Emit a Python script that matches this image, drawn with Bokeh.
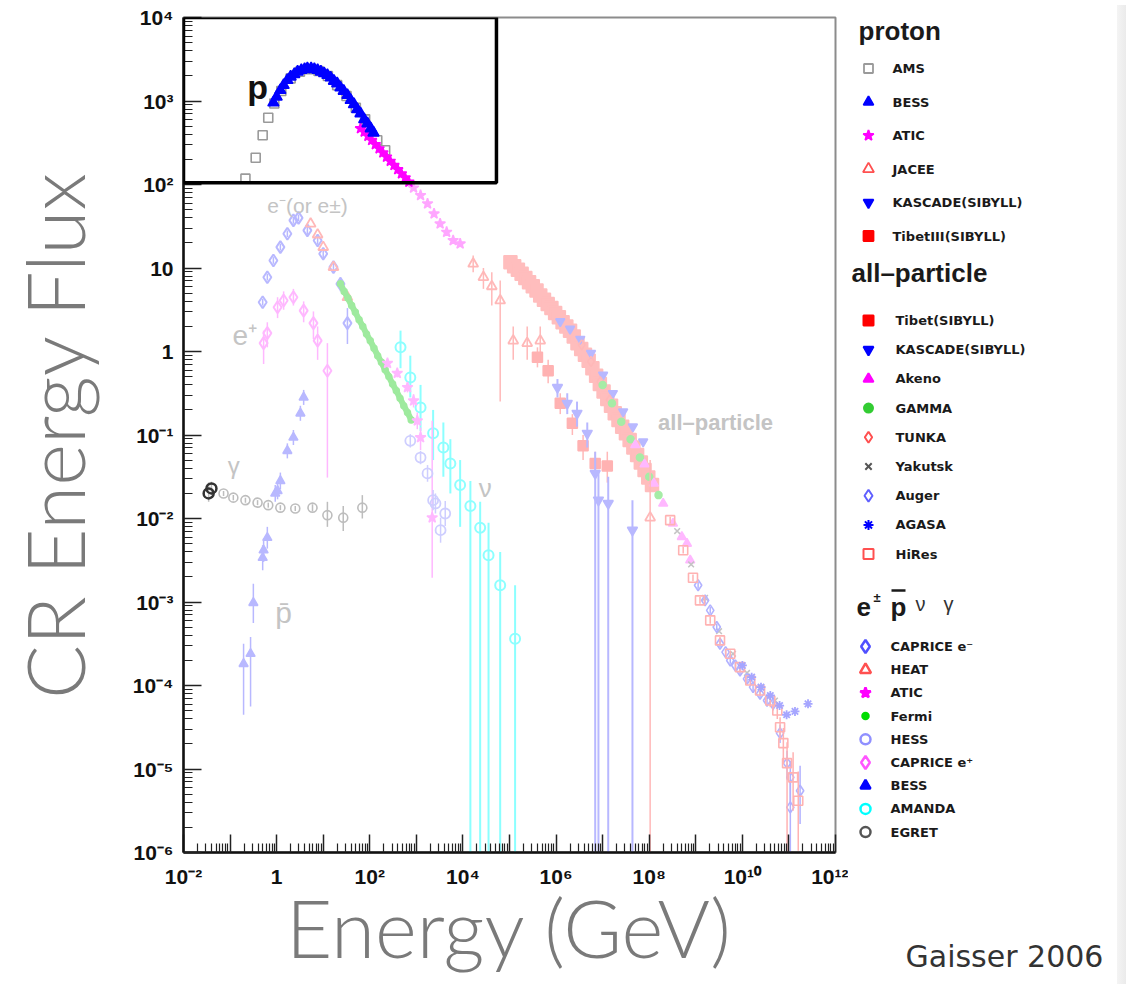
import numpy as np
from bokeh.plotting import figure
from bokeh.models import Range1d, FixedTicker, CustomJSTickFormatter, Label, BoxAnnotation, Div, Title
from bokeh.layouts import row
from bokeh.embed import file_html
from bokeh.resources import INLINE

# ================= DATA (log10 E [GeV], log10 energy flux) =================
# ---- proton ----
ams_logE = [-0.67, -0.45, -0.30, -0.18, -0.05, 0.10, 0.30, 0.50, 0.70, 0.90, 1.10, 1.30, 1.50, 1.70, 1.90, 2.16, 2.33]
ams_logF = [2.07, 2.32, 2.59, 2.80, 2.97, 3.12, 3.27, 3.35, 3.38, 3.36, 3.30, 3.19, 3.06, 2.92, 2.78, 2.53, 2.41]

bess_p_logE = [-0.07, 0.00, 0.08, 0.15, 0.23, 0.30, 0.38, 0.45, 0.53, 0.60, 0.66, 0.74, 0.81, 0.88, 0.95, 1.02,
               1.09, 1.16, 1.23, 1.30, 1.37, 1.44, 1.52, 1.59, 1.66, 1.73, 1.80, 1.88, 1.95, 2.02, 2.08]
bess_p_logF = [2.98, 3.05, 3.13, 3.19, 3.25, 3.29, 3.32, 3.35, 3.37, 3.38, 3.39, 3.39, 3.38, 3.37, 3.35, 3.33,
               3.31, 3.28, 3.24, 3.21, 3.16, 3.12, 3.07, 3.01, 2.96, 2.90, 2.85, 2.78, 2.73, 2.67, 2.62]

atic_p_logE = [1.80, 1.88, 1.96, 2.04, 2.12, 2.20, 2.28, 2.36, 2.44, 2.52, 2.60, 2.68, 2.76, 2.84, 2.94,
               3.09, 3.24, 3.38, 3.51, 3.65, 3.79, 3.94]
atic_p_logF = [2.67, 2.63, 2.58, 2.53, 2.48, 2.43, 2.38, 2.33, 2.28, 2.23, 2.18, 2.13, 2.08, 2.03, 1.96,
               1.87, 1.77, 1.65, 1.53, 1.43, 1.33, 1.29]

jacee_logE = [4.22, 4.44, 4.62, 4.80, 5.08, 5.38, 5.66, 8.02]
jacee_logF = [1.05, 0.89, 0.78, 0.61, 0.13, 0.10, 0.13, -1.99]
jacee_dn = [0.10, 0.14, 0.23, 1.21, 0.23, 0.20, 0.18, 4.50]
jacee_up = [0.10, 0.11, 0.17, 0.24, 0.17, 0.20, 0.17, 0.69]

kascade_p_logE = [6.03, 6.24, 6.45, 6.67, 6.84, 6.91, 7.12, 7.64]
kascade_p_logF = [-0.43, -0.62, -0.74, -0.98, -1.46, -1.78, -1.82, -2.14]
kascade_p_dn = [0.12, 0.13, 0.16, 0.17, 5.00, 5.00, 5.00, 5.00]
kascade_p_up = [0.10, 0.12, 0.14, 0.13, 0.26, 0.33, 0.32, 0.36]

tibet3_logE = [5.60, 5.83, 6.09, 6.35, 6.58, 6.84, 7.10]
tibet3_logF = [-0.07, -0.23, -0.62, -0.86, -1.13, -1.34, -1.37]
tibet3_dn = [0.12, 0.15, 0.13, 0.14, 0.17, 0.16, 0.20]
tibet3_up = [0.12, 0.13, 0.12, 0.11, 0.13, 0.14, 0.17]

# ---- all-particle ----
tibet_all_logE = [5.02, 5.10, 5.18, 5.26, 5.34, 5.42, 5.50, 5.58, 5.66, 5.74, 5.82, 5.90, 5.98, 6.06, 6.14,
                  6.22, 6.30, 6.38, 6.46, 6.54, 6.62, 6.70, 6.78, 6.86, 6.94, 7.02, 7.10, 7.18, 7.26, 7.34,
                  7.42, 7.50, 7.58, 7.66, 7.74, 7.82, 7.90, 7.98, 8.06]
tibet_all_logF = [1.07, 1.02, 0.98, 0.93, 0.88, 0.83, 0.78, 0.73, 0.67, 0.62, 0.57, 0.52, 0.46, 0.41, 0.35,
                  0.30, 0.25, 0.18, 0.10, 0.03, -0.04, -0.11, -0.20, -0.29, -0.39, -0.48, -0.57, -0.65, -0.74, -0.82,
                  -0.90, -0.98, -1.06, -1.15, -1.24, -1.33, -1.42, -1.51, -1.60]

kascade_all_logE = [6.09, 6.30, 6.52, 6.75, 7.01, 7.22, 7.44, 7.65, 7.87]
kascade_all_logF = [0.36, 0.27, 0.15, -0.02, -0.28, -0.50, -0.72, -0.90, -1.08]

akeno_logE = [7.70, 7.90, 8.10, 8.30, 8.51, 8.70, 8.81, 8.88]
akeno_logF = [-1.12, -1.35, -1.58, -1.82, -2.06, -2.22, -2.30, -2.50]

gamma_logE = [7.00, 7.20, 7.40, 7.60, 7.80, 8.00, 8.20]
gamma_logF = [-0.40, -0.62, -0.84, -1.05, -1.27, -1.50, -1.72]

tunka_logE = [6.55, 6.75, 6.95, 7.15]
tunka_logF = [0.08, -0.12, -0.36, -0.58]

yakutsk_logE = [8.60, 8.90, 9.20, 9.50, 9.80, 10.10, 10.40, 10.70]
yakutsk_logF = [-2.15, -2.55, -2.95, -3.35, -3.62, -3.85, -4.02, -4.18]

auger_logE = [9.05, 9.20, 9.31, 9.45, 9.52, 9.64, 9.74, 9.85, 9.95, 10.10, 10.23, 10.38, 10.53, 10.66,
              10.81, 10.96, 11.03, 11.03, 11.24]
auger_logF = [-2.80, -2.98, -3.10, -3.30, -3.50, -3.60, -3.70, -3.76, -3.82, -3.92, -4.02, -4.10, -4.18, -4.22,
              -4.57, -4.93, -5.10, -5.46, -5.26]
auger_dn = [0.04, 0.04, 0.04, 0.04, 0.04, 0.04, 0.04, 0.04, 0.05, 0.05, 0.06, 0.06, 0.07, 0.08,
            0.12, 0.20, 0.30, 1.50, 0.40]
auger_up = [0.04, 0.04, 0.04, 0.04, 0.04, 0.04, 0.04, 0.04, 0.05, 0.05, 0.06, 0.06, 0.07, 0.08,
            0.10, 0.15, 0.20, 0.30, 0.30]

agasa_logE = [10.00, 10.20, 10.40, 10.60, 10.80, 10.95, 11.13, 11.41]
agasa_logF = [-3.76, -3.90, -4.02, -4.12, -4.24, -4.35, -4.31, -4.22]

hires_logE = [8.45, 8.73, 8.94, 9.09, 9.31, 9.52, 9.74, 9.95, 10.17, 10.38, 10.60, 10.75, 10.81, 10.88,
              10.96, 11.09, 11.20]
hires_logF = [-2.02, -2.38, -2.71, -2.98, -3.22, -3.46, -3.62, -3.78, -3.94, -4.06, -4.18, -4.30, -4.50, -4.69,
              -4.93, -5.10, -5.38]
hires_dn = [0.04, 0.04, 0.04, 0.04, 0.04, 0.04, 0.04, 0.05, 0.05, 0.06, 0.08, 0.10, 0.15, 0.25,
            2.00, 0.40, 0.60]
hires_up = [0.04, 0.04, 0.04, 0.04, 0.04, 0.04, 0.04, 0.05, 0.05, 0.06, 0.08, 0.10, 0.12, 0.18,
            0.25, 0.30, 0.35]

# ---- e+-, pbar, nu, gamma ----
caprice_em_logE = [-0.30, -0.20, -0.07, 0.08, 0.23, 0.36, 0.47, 0.66, 0.88, 1.00, 1.22, 1.37, 1.52]
caprice_em_logF = [0.59, 0.89, 1.09, 1.25, 1.41, 1.57, 1.60, 1.45, 1.33, 1.17, 1.01, 0.81, 0.34]
caprice_em_dn = [0.04, 0.04, 0.04, 0.04, 0.04, 0.04, 0.04, 0.05, 0.05, 0.06, 0.07, 0.09, 0.25]
caprice_em_up = [0.04, 0.04, 0.04, 0.04, 0.04, 0.04, 0.04, 0.05, 0.05, 0.06, 0.07, 0.08, 0.18]

heat_logE = [0.73, 0.88, 1.00, 1.22, 1.52]
heat_logF = [1.53, 1.40, 1.25, 1.01, 0.65]

atic_e_logE = [2.38, 2.59, 2.81, 2.94, 3.02, 3.09, 3.34]
atic_e_logF = [-0.14, -0.26, -0.43, -0.59, -0.83, -1.03, -1.99]
atic_e_dn = [0.05, 0.05, 0.06, 0.08, 0.10, 0.15, 0.72]
atic_e_up = [0.05, 0.05, 0.06, 0.08, 0.10, 0.12, 1.16]

fermi_logE = [1.37, 1.45, 1.53, 1.61, 1.69, 1.77, 1.85, 1.93, 2.01, 2.09, 2.17, 2.25, 2.33, 2.41, 2.49,
              2.57, 2.65, 2.73, 2.81, 2.89]
fermi_logF = [0.81, 0.72, 0.64, 0.55, 0.47, 0.38, 0.30, 0.21, 0.13, 0.04, -0.05, -0.13, -0.22, -0.30, -0.39,
              -0.47, -0.56, -0.65, -0.73, -0.82]

hess_logE = [2.87, 3.09, 3.24, 3.36, 3.41, 3.52, 3.62]
hess_logF = [-1.07, -1.27, -1.46, -1.78, -1.82, -2.14, -1.94]
hess_dn = [0.08, 0.08, 0.10, 0.12, 0.12, 0.15, 0.15]
hess_up = [0.08, 0.08, 0.10, 0.12, 0.12, 0.15, 0.15]

caprice_ep_logE = [-0.28, -0.20, 0.02, 0.15, 0.36, 0.58, 0.79, 0.88, 1.09]
caprice_ep_logF = [0.10, 0.22, 0.53, 0.61, 0.65, 0.49, 0.34, 0.13, -0.23]
caprice_ep_dn = [0.25, 0.17, 0.13, 0.11, 0.10, 0.14, 0.19, 0.23, 1.28]
caprice_ep_up = [0.15, 0.13, 0.12, 0.11, 0.10, 0.11, 0.14, 0.17, 0.33]

pbar_logE = [-0.71, -0.56, -0.50, -0.30, -0.28, -0.20, -0.03, 0.02, 0.08, 0.23, 0.36, 0.51, 0.58]
pbar_logF = [-3.74, -3.62, -3.01, -2.47, -2.38, -2.23, -1.70, -1.67, -1.55, -1.19, -1.03, -0.74, -0.55]
pbar_dn = [0.61, 0.63, 0.24, 0.15, 0.14, 0.13, 0.10, 0.10, 0.10, 0.09, 0.09, 0.09, 0.09]
pbar_up = [0.24, 0.20, 0.23, 0.15, 0.14, 0.13, 0.10, 0.10, 0.10, 0.09, 0.09, 0.09, 0.09]

amanda_logE = [2.66, 2.87, 3.09, 3.36, 3.58, 3.73, 3.94, 4.16, 4.37, 4.55, 4.80, 5.12]
amanda_logF = [0.05, -0.31, -0.67, -0.98, -1.15, -1.34, -1.60, -1.85, -2.11, -2.44, -2.80, -3.44]
amanda_dn = [0.25, 0.24, 0.28, 0.32, 0.35, 0.36, 0.50, 5.00, 5.00, 5.00, 5.00, 5.00]
amanda_up = [0.20, 0.26, 0.27, 0.28, 0.30, 0.29, 0.30, 0.30, 0.31, 0.39, 0.40, 0.64]

egret_logE = [-1.46, -1.40, -1.14, -0.93, -0.67, -0.41, -0.18, 0.08, 0.40, 0.77, 1.09, 1.43, 1.84]
egret_logF = [-1.70, -1.64, -1.70, -1.75, -1.78, -1.81, -1.84, -1.87, -1.88, -1.87, -1.96, -1.99, -1.87]
egret_dn = [0.10, 0.08, 0.03, 0.03, 0.03, 0.03, 0.03, 0.03, 0.03, 0.04, 0.14, 0.16, 0.13]
egret_up = [0.13, 0.08, 0.03, 0.03, 0.03, 0.03, 0.03, 0.03, 0.03, 0.04, 0.16, 0.14, 0.15]

# legend names
proton_names = ["AMS", "BESS", "ATIC", "JACEE", "KASCADE(SIBYLL)", "TibetIII(SIBYLL)"]
allpart_names = ["Tibet(SIBYLL)", "KASCADE(SIBYLL)", "Akeno", "GAMMA", "TUNKA", "Yakutsk", "Auger", "AGASA", "HiRes"]
epm_names = ["CAPRICE e\u207b", "HEAT", "ATIC", "Fermi", "HESS", "CAPRICE e\u207a", "BESS", "AMANDA", "EGRET"]
credit_text = "Gaisser 2006"

# ================= STYLE =================
BLUE, RED, MAG, GREEN, CYAN = "#0000ff", "#ff0000", "#ff00ff", "#00c800", "#00ffff"
BOX_LOGE_MAX, BOX_LOGF_MIN = 4.72, 2.02
TICK_FONT = "Liberation Sans"
TITLE_FONT = "Lato Light"
LEG_FONT = "DejaVu Sans"


def fade(c, f=0.28):
    c = c.lstrip("#")
    r, g, b = (int(c[i:i + 2], 16) for i in (0, 2, 4))
    mix = lambda v: int(round(v * f + 255 * (1 - f)))
    return "#%02x%02x%02x" % (mix(r), mix(g), mix(b))


def tp(v):
    return [10.0 ** x for x in v]


W1, W2, WS, H = 848, 264, 14, 984
BORDER_TOP, BORDER_BOTTOM = 17, 132
p = figure(width=W1, height=H, x_axis_type="log", y_axis_type="log",
           x_range=Range1d(1e-2, 1e12), y_range=Range1d(1e-6, 1e4),
           output_backend="svg", toolbar_location=None,
           min_border_left=183, min_border_right=13, min_border_top=BORDER_TOP, min_border_bottom=BORDER_BOTTOM)
p.xgrid.visible = False
p.ygrid.visible = False
p.background_fill_color = "white"
p.border_fill_color = "white"
p.outline_line_color = "#8c8c8c"
p.outline_line_width = 2


def marks(lx, ly, marker, color, size, filled=True, lw=1.5):
    p.scatter(tp(lx), tp(ly), marker=marker, size=size, line_color=color,
              fill_color=(color if filled else None), line_width=lw)


def errs(lx, ly, dn, up, color, lw=1.5):
    lo = [a - d for a, d in zip(ly, dn)]
    hi = [a + u for a, u in zip(ly, up)]
    p.segment(x0=tp(lx), y0=tp(lo), x1=tp(lx), y1=tp(hi), line_color=color, line_width=lw)


# ---- faded background data (everything outside the highlighted proton box) ----
errs(amanda_logE, amanda_logF, amanda_dn, amanda_up, fade(CYAN, 0.45), 2)
marks(amanda_logE, amanda_logF, "circle", fade(CYAN, 0.45), 10, False, 2)

errs(egret_logE, egret_logF, egret_dn, egret_up, "#bdbdbd")
marks(egret_logE[2:], egret_logF[2:], "circle", "#bdbdbd", 9, False, 1.6)

errs(pbar_logE, pbar_logF, pbar_dn, pbar_up, fade(BLUE))
marks(pbar_logE, pbar_logF, "triangle", fade(BLUE), 9)

errs(caprice_ep_logE, caprice_ep_logF, caprice_ep_dn, caprice_ep_up, fade(MAG))
marks(caprice_ep_logE, caprice_ep_logF, "diamond", fade(MAG), 12, False, 2)

errs(caprice_em_logE, caprice_em_logF, caprice_em_dn, caprice_em_up, fade(BLUE))
marks(caprice_em_logE, caprice_em_logF, "diamond", fade(BLUE), 12, False, 2)
marks(heat_logE, heat_logF, "triangle", fade(RED), 10, False, 1.8)

p.line(tp(fermi_logE), tp(fermi_logF), line_color=fade(GREEN, 0.38), line_width=6)
marks(fermi_logE, fermi_logF, "circle", fade(GREEN, 0.38), 6)
errs(atic_e_logE, atic_e_logF, atic_e_dn, atic_e_up, fade(MAG))
marks(atic_e_logE, atic_e_logF, "star", fade(MAG), 11)
errs(hess_logE, hess_logF, hess_dn, hess_up, fade("#5050ff"))
marks(hess_logE, hess_logF, "circle", fade("#5050ff"), 10, False, 1.8)

# all-particle
marks(tibet_all_logE, tibet_all_logF, "square", fade(RED, 0.26), 13)
marks(kascade_all_logE, kascade_all_logF, "inverted_triangle", fade(BLUE), 9)
marks(tunka_logE, tunka_logF, "diamond", fade(RED), 10, False)
marks(gamma_logE, gamma_logF, "circle", fade(GREEN, 0.35), 7)
marks(akeno_logE, akeno_logF, "triangle", fade(MAG), 9)
marks(yakutsk_logE, yakutsk_logF, "x", "#c4c4c4", 8)
errs(auger_logE, auger_logF, auger_dn, auger_up, fade(BLUE, 0.3))
marks(auger_logE, auger_logF, "diamond", fade(BLUE, 0.3), 11, False, 1.6)
errs(hires_logE, hires_logF, hires_dn, hires_up, fade(RED, 0.3))
marks(hires_logE, hires_logF, "square", fade(RED, 0.3), 9, False, 1.6)
marks(agasa_logE, agasa_logF, "asterisk", fade(BLUE, 0.35), 9, True, 1.8)

# proton (outside box => faded)
errs(jacee_logE, jacee_logF, jacee_dn, jacee_up, fade(RED))
marks(jacee_logE, jacee_logF, "triangle", fade(RED), 10, False, 1.8)
errs(tibet3_logE, tibet3_logF, tibet3_dn, tibet3_up, fade(RED))
marks(tibet3_logE, tibet3_logF, "square", fade(RED, 0.3), 10)
errs(kascade_p_logE, kascade_p_logF, kascade_p_dn, kascade_p_up, fade(BLUE), 2)
marks(kascade_p_logE, kascade_p_logF, "inverted_triangle", fade(BLUE), 10)

atic_out = [(a, b) for a, b in zip(atic_p_logE, atic_p_logF) if not (b > BOX_LOGF_MIN and a < BOX_LOGE_MAX)]
atic_in = [(a, b) for a, b in zip(atic_p_logE, atic_p_logF) if (b > BOX_LOGF_MIN and a < BOX_LOGE_MAX)]
marks([a for a, _ in atic_out], [b for _, b in atic_out], "star", fade(MAG, 0.35), 11)

# dark EGRET low-energy points
marks(egret_logE[:2], egret_logF[:2], "circle", "#333333", 10, False, 2.5)

# ---- highlighted proton data inside box ----
marks(ams_logE, ams_logF, "square", "#9a9a9a", 9, False, 1.6)
marks([a for a, _ in atic_in], [b for _, b in atic_in], "star", MAG, 11)
marks(bess_p_logE, bess_p_logF, "triangle", BLUE, 11)

p.add_layout(BoxAnnotation(left=1e-2, right=10 ** BOX_LOGE_MAX, bottom=10 ** BOX_LOGF_MIN, top=1e4,
                           fill_alpha=0, line_color="black", line_alpha=1.0, line_width=3.5))

# ---- in-plot labels ----
LG = "#c4c4c4"
def lab(lx, ly, text, size, color=LG, style="normal", align="left", font=TICK_FONT):
    p.add_layout(Label(x=10 ** lx, y=10 ** ly, text=text, text_font=font, text_font_size=size,
                       text_color=color, text_font_style=style, text_align=align, text_baseline="middle"))

lab(-0.41, 3.17, "p", "34px", "#111111", "bold", "center")
lab(-0.20, 1.75, "e\u207b(or e\u00b1)", "21px")
lab(-0.95, 0.19, "e\u207a", "28px")
lab(-1.05, -1.36, "\u03b3", "24px")
lab(0.15, -3.12, "p\u0304", "30px", align="center")
lab(4.48, -1.64, "\u03bd", "26px", align="center")
lab(8.19, -0.85, "all\u2013particle", "22px", style="bold")

# ---- axes ----
x_major = [10.0 ** k for k in range(-2, 13)]
x_minor = [m * 10.0 ** k for k in range(-2, 12) for m in range(2, 10)]
y_major = [10.0 ** k for k in range(-6, 5)]
y_minor = [m * 10.0 ** k for k in range(-6, 4) for m in range(2, 10)]
p.xaxis.ticker = FixedTicker(ticks=x_major, minor_ticks=x_minor)
p.yaxis.ticker = FixedTicker(ticks=y_major, minor_ticks=y_minor)

SUP_JS = """
const e = Math.round(Math.log10(tick));
const sup = {"-":"\u207b","0":"\u2070","1":"\u00b9","2":"\u00b2","3":"\u00b3","4":"\u2074",
             "5":"\u2075","6":"\u2076","7":"\u2077","8":"\u2078","9":"\u2079"};
%s
if (e === 0) return "1";
if (e === 1) return "10";
return "10" + String(e).split("").map(c => sup[c]).join("");
"""
p.xaxis.formatter = CustomJSTickFormatter(code=SUP_JS % 'if (Math.abs(e) % 2 === 1) return "";')
p.yaxis.formatter = CustomJSTickFormatter(code=SUP_JS % "")

for ax in (p.xaxis[0], p.yaxis[0]):
    ax.major_tick_in = 18
    ax.major_tick_out = 0
    ax.minor_tick_in = 9
    ax.minor_tick_out = 0
    ax.major_tick_line_width = 1.5
    ax.minor_tick_line_width = 1.2
    ax.major_tick_line_color = "#222222"
    ax.minor_tick_line_color = "#222222"
    ax.axis_line_width = 2.5
    ax.axis_line_color = "#111111"
    ax.major_label_text_font = TICK_FONT
    ax.major_label_text_font_size = "21px"
    ax.major_label_text_font_style = "bold"
    ax.major_label_text_color = "#111111"
    ax.axis_label_text_font = TITLE_FONT
    ax.axis_label_text_font_size = "80px"
    ax.axis_label_text_font_style = "normal"
    ax.axis_label_text_color = "#7a7a7a"

p.xaxis.major_label_standoff = 12
p.yaxis.major_label_standoff = 10
p.xaxis.axis_label = "Energy (GeV)"
p.yaxis.axis_label = "CR Energy Flux"
p.xaxis.axis_label_standoff = -12
p.yaxis.axis_label_standoff = 28

# ================= LEGEND PANEL =================
# frame of this panel is aligned with the main plot frame (rows 17..852): data units == pixels
lg = figure(width=W2, height=H, x_range=Range1d(0, W2), y_range=Range1d(H - BORDER_BOTTOM, BORDER_TOP),
            output_backend="svg", toolbar_location=None,
            min_border_left=0, min_border_right=0, min_border_top=BORDER_TOP, min_border_bottom=BORDER_BOTTOM,
            x_axis_location=None, y_axis_location=None)
lg.xgrid.visible = False
lg.ygrid.visible = False
lg.outline_line_color = None
lg.background_fill_color = "white"
lg.border_fill_color = "white"
# credit line sits at the bottom of the panel's lower border (leading blank lines push it down)
lg.add_layout(Title(text="\n\n" + credit_text, align="left", offset=57, standoff=0, vertical_align="bottom",
                    text_font=LEG_FONT, text_font_size="30px", text_font_style="normal",
                    text_line_height=1.22, text_color="#333333"), "below")


def ltext(x, y, text, size, style="bold", color="#1a1a1a", font=TICK_FONT):
    lg.add_layout(Label(x=x, y=y, text=text, text_font=font, text_font_size=size, text_font_style=style,
                        text_color=color, text_baseline="middle", text_align="left"))


def lmark(x, y, marker, color, size, filled=True, lw=1.5):
    lg.scatter([x], [y], marker=marker, size=size, line_color=color,
               fill_color=(color if filled else None), line_width=lw)


ltext(10, 30, "proton", "26px")
proton_styles = [("square", "#9a9a9a", 9, False), ("triangle", BLUE, 10, True), ("star", MAG, 11, True),
                 ("triangle", "#ff5050", 11, False), ("inverted_triangle", BLUE, 10, True), ("square", RED, 10, True)]
for i, (name, st) in enumerate(zip(proton_names, proton_styles)):
    y = 68 + i * 33.5
    lmark(20, y, st[0], st[1], st[2], st[3], 1.8)
    ltext(44, y, name, "13px", font=LEG_FONT)

ltext(3, 272, "all\u2013particle", "26px")
all_styles = [("square", RED, 10, True), ("inverted_triangle", BLUE, 10, True), ("triangle", MAG, 10, True),
              ("circle", "#33cc33", 9, True), ("diamond", "#ff5050", 11, False), ("x", "#555555", 9, False),
              ("diamond", "#6060ff", 12, False), ("asterisk", BLUE, 10, True), ("square", "#ff5050", 10, False)]
for i, (name, st) in enumerate(zip(allpart_names, all_styles)):
    y = 320 + i * 29.2
    lmark(20, y, st[0], st[1], st[2], st[3], 2)
    ltext(47, y, name, "13px", font=LEG_FONT)

ltext(8, 606, "e", "26px")
ltext(25, 597, "\u00b1", "13px")
ltext(42, 606, "p", "26px")
lg.segment(x0=[43], y0=[590], x1=[57], y1=[590], line_color="#1a1a1a", line_width=2.5)
ltext(67, 603, "\u03bd", "20px", "normal", "#333333")
ltext(95, 603, "\u03b3", "20px", "normal", "#333333")
epm_styles = [("diamond", "#5050ff", 13, False), ("triangle", "#ff5050", 11, False), ("star", MAG, 11, True),
              ("circle", "#00dd00", 6, True), ("circle", "#9090ff", 10, False), ("diamond", "#ff55ff", 13, False),
              ("triangle", BLUE, 10, True), ("circle", CYAN, 10, False), ("circle", "#555555", 10, False)]
for i, (name, st) in enumerate(zip(epm_names, epm_styles)):
    y = 646 + i * 23.2
    lmark(17, y, st[0], st[1], st[2], st[3], 2.5)
    ltext(42, y, name, "13px", font=LEG_FONT)

strip = Div(text="", width=WS, height=H,
            styles={"background": "linear-gradient(to right, #f4f4f4, #e6e6e6)"})

layout = row(p, lg, strip)
open("out.html", "w").write(file_html(layout, INLINE))
